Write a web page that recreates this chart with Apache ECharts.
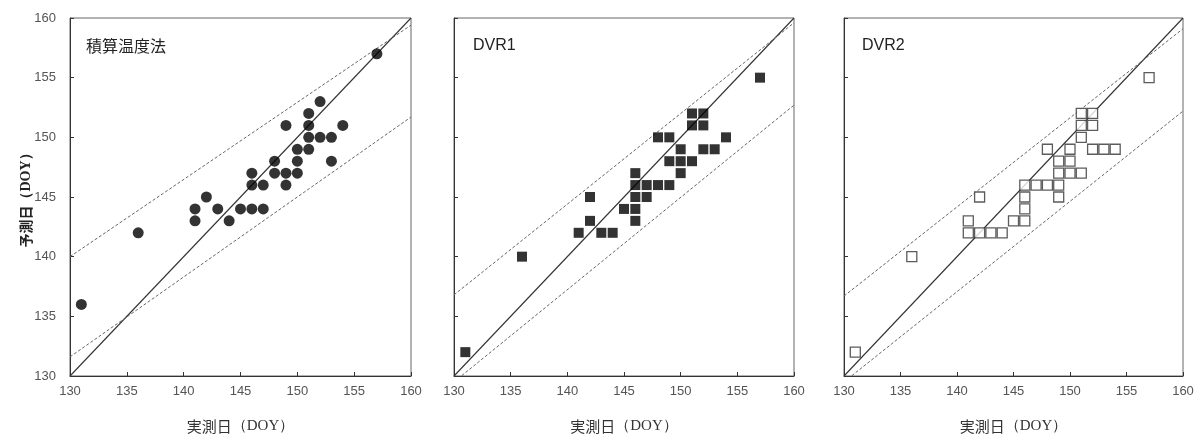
<!DOCTYPE html>
<html>
<head>
<meta charset="utf-8">
<script src="https://cdn.jsdelivr.net/npm/echarts@6/dist/echarts.min.js"></script>
<style>
  html, body { margin: 0; padding: 0; background: #fff; }
  #chart { width: 1204px; height: 440px; }
</style>
</head>
<body>
<div id="chart"></div>
<script>
// Observed vs. predicted day of year, three prediction methods
const panelTitles = ['積算温度法', 'DVR1', 'DVR2'];
const axisTicks = [130, 135, 140, 145, 150, 155, 160];

// [observed DOY, predicted DOY]
const gddPoints = [
  [131, 136], [136, 142], [141, 144], [141, 143], [142, 145], [143, 144],
  [144, 143], [145, 144], [146, 144], [146, 146], [146, 147], [147, 146],
  [147, 144], [148, 148], [148, 147], [149, 151], [149, 147], [149, 146],
  [150, 149], [150, 148], [150, 147], [151, 152], [151, 151], [151, 150],
  [151, 149], [152, 153], [152, 150], [153, 150], [153, 148], [154, 151],
  [157, 157]
];
const dvr1Points = [
  [131, 132], [136, 140], [141, 142], [142, 145], [142, 143], [143, 142],
  [144, 142], [145, 144], [146, 147], [146, 146], [146, 145], [146, 144],
  [146, 143], [147, 146], [147, 145], [148, 150], [148, 146], [149, 150],
  [149, 148], [149, 146], [150, 149], [150, 148], [150, 147], [151, 152],
  [151, 151], [151, 148], [152, 152], [152, 151], [152, 149], [153, 149],
  [154, 150], [157, 155]
];
const dvr2Points = [
  [131, 132], [136, 140], [141, 143], [141, 142], [142, 145], [142, 142],
  [143, 142], [144, 142], [145, 143], [146, 146], [146, 145], [146, 144],
  [146, 143], [147, 146], [148, 149], [148, 146], [149, 148], [149, 147],
  [149, 146], [149, 145], [150, 149], [150, 148], [150, 147], [151, 152],
  [151, 151], [151, 150], [151, 147], [152, 152], [152, 151], [152, 149],
  [153, 149], [154, 149], [157, 155]
];

// 1:1 line
const identityLine = [[130, 130], [160, 160]];
// upper / lower dashed band end points for each panel
const gddUpper = [[130, 140.0], [160, 159.4]];
const gddLower = [[130, 131.6], [160, 151.7]];
const dvr1Upper = [[130, 136.8], [160, 159.6]];
const dvr1Lower = [[130, 129.5], [160, 152.7]];
const dvr2Upper = [[130, 136.7], [160, 159.1]];
const dvr2Lower = [[130, 129.5], [160, 152.2]];

const chart = echarts.init(document.getElementById('chart'), null, { renderer: 'canvas' });

const grids = [
  { left: 70, top: 18, width: 341, height: 358 },
  { left: 454, top: 18, width: 340, height: 358 },
  { left: 844, top: 18, width: 339, height: 358 }
];

const tickFont = { color: '#555', fontSize: 13, fontFamily: 'Liberation Sans, Arial, sans-serif' };

const xNameRich = {
  j: { fontFamily: 'Noto Sans CJK JP', fontSize: 15, color: '#333' },
  s: { fontFamily: 'Liberation Serif', fontSize: 15, color: '#333' }
};
const yNameRich = {
  j: { fontFamily: 'Noto Sans CJK JP', fontSize: 14, fontWeight: 'bold', color: '#222' },
  s: { fontFamily: 'Liberation Serif', fontSize: 14, fontWeight: 'bold', color: '#222' }
};

function xAxis(i) {
  return {
    type: 'value', gridIndex: i, min: axisTicks[0], max: axisTicks[axisTicks.length - 1], interval: 5,
    name: '{j|実測日}{s|（DOY）}', nameLocation: 'middle', nameGap: 43,
    nameTextStyle: { rich: xNameRich },
    axisLine: { show: true, lineStyle: { color: '#333', width: 1 } },
    axisTick: { show: true, inside: true, length: 4, lineStyle: { color: '#333' } },
    axisLabel: Object.assign({ margin: 9 }, tickFont),
    splitLine: { show: false }
  };
}
function yAxis(i) {
  return {
    type: 'value', gridIndex: i, min: axisTicks[0], max: axisTicks[axisTicks.length - 1], interval: 5,
    name: i === 0 ? '{j|予測日}{s|（DOY）}' : '', nameLocation: 'middle', nameGap: 37,
    nameMoveOverlap: false,
    nameTextStyle: { rich: yNameRich },
    axisLine: { show: true, lineStyle: { color: '#333', width: 1 } },
    axisTick: { show: true, inside: true, length: 4, lineStyle: { color: '#333' } },
    axisLabel: Object.assign({ show: i === 0, margin: 14 }, tickFont),
    splitLine: { show: false }
  };
}

function refLine(i, data, dashed) {
  return {
    type: 'line', xAxisIndex: i, yAxisIndex: i, data: data, symbol: 'none', silent: true,
    clip: true, z: 1,
    lineStyle: dashed
      ? { color: '#666', width: 1, type: [3, 2] }
      : { color: '#333', width: 1.1 }
  };
}

const titleStyle = { fontSize: 16, fontWeight: 'normal', color: '#222', fontFamily: 'Noto Sans CJK JP, Liberation Sans, sans-serif' };
const latinTitleStyle = Object.assign({}, titleStyle, { fontFamily: 'Liberation Sans, Arial, sans-serif' });

chart.setOption({
  animation: false,
  backgroundColor: '#fff',
  title: [
    { text: panelTitles[0], left: 81, top: 33, textStyle: titleStyle },
    { text: panelTitles[1], left: 468, top: 33, textStyle: latinTitleStyle },
    { text: panelTitles[2], left: 857, top: 33, textStyle: latinTitleStyle }
  ],
  grid: grids.map(g => Object.assign({ show: true, borderColor: '#666', borderWidth: 1, backgroundColor: 'transparent' }, g)),
  xAxis: [xAxis(0), xAxis(1), xAxis(2)],
  yAxis: [yAxis(0), yAxis(1), yAxis(2)],
  series: [
    refLine(0, identityLine, false), refLine(0, gddUpper, true), refLine(0, gddLower, true),
    refLine(1, identityLine, false), refLine(1, dvr1Upper, true), refLine(1, dvr1Lower, true),
    refLine(2, identityLine, false), refLine(2, dvr2Upper, true), refLine(2, dvr2Lower, true),
    {
      type: 'scatter', xAxisIndex: 0, yAxisIndex: 0, data: gddPoints, z: 3,
      symbol: 'circle', symbolSize: 11, itemStyle: { color: '#000' }
    },
    {
      type: 'scatter', xAxisIndex: 1, yAxisIndex: 1, data: dvr1Points, z: 3,
      symbol: 'rect', symbolSize: 10, itemStyle: { color: '#000' }
    },
    {
      type: 'scatter', xAxisIndex: 2, yAxisIndex: 2, data: dvr2Points, z: 3,
      symbol: 'rect', symbolSize: 10,
      itemStyle: { color: '#fff', borderColor: '#333', borderWidth: 1.3 }
    }
  ]
});
</script>
</body>
</html>
